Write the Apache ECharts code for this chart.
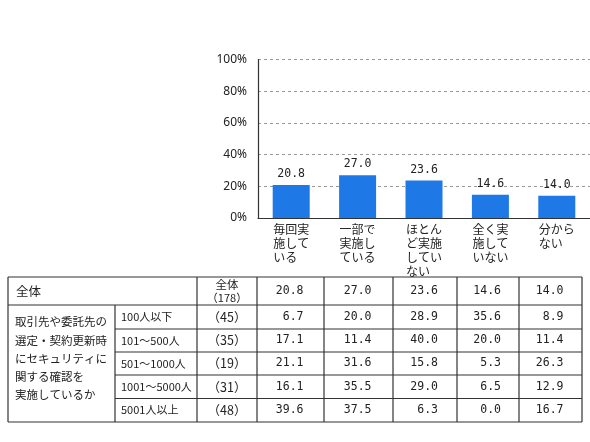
<!DOCTYPE html>
<html>
<head>
<meta charset="utf-8">
<script src="https://cdn.jsdelivr.net/npm/echarts@6/dist/echarts.min.js"></script>
<style>
  html, body { margin: 0; padding: 0; background: #fff; }
  #chart { width: 590px; height: 442px; }
</style>
</head>
<body>
<div id="chart"></div>
<script>
// カテゴリ（軸ラベルは3文字ごとに改行）
const categories = ['毎回実施している', '一部で実施している', 'ほとんど実施していない', '全く実施していない', '分からない']
const totalValues = [20.8, 27.0, 23.6, 14.6, 14.0]
const yTicks = [0, 20, 40, 60, 80, 100]

// 表
const totalLabel = '全体'
const totalCount = '（178）'
const questionLines = ['取引先や委託先の', '選定・契約更新時', 'にセキュリティに', '関する確認を', '実施しているか']
const rowLabels = ['100人以下', '101～500人', '501～1000人', '1001～5000人', '5001人以上']
const rowCounts = ['（45）', '（35）', '（19）', '（31）', '（48）']
const rowValues = [
  [6.7, 20.0, 28.9, 35.6, 8.9],
  [17.1, 11.4, 40.0, 20.0, 11.4],
  [21.1, 31.6, 15.8, 5.3, 26.3],
  [16.1, 35.5, 29.0, 6.5, 12.9],
  [39.6, 37.5, 6.3, 0.0, 16.7]
]

const JP = '"Noto Sans CJK JP", sans-serif'
const MONO = '"DejaVu Sans Mono", monospace'
const LINE = '#333'
const TEXT = '#222'

// 3文字ずつ改行し、短い行は全角スペースで埋めて左揃えに見せる
const wrap3 = s => s.match(/.{1,3}/g).map(l => l.padEnd(3, '\u3000')).join('\n')

// 表のレイアウト
const colX = [8, 115, 197, 257, 324, 393, 457, 519, 582]
const rowY = [277, 305, 329, 352, 375, 398.5, 422]

const els = []
// 白背景（はみ出した軸ラベルを隠す）
els.push({ type: 'rect', z: 10, shape: { x: 0, y: rowY[0], width: 590, height: 442 - rowY[0] }, style: { fill: '#fff' } })
const line = (x1, y1, x2, y2) => els.push({ type: 'line', z: 12, shape: { x1, y1, x2, y2 }, style: { stroke: LINE, lineWidth: 1.2 } })
const text = (t, x, y, align, font) => els.push({
  type: 'text', z: 12, style: { text: t, x, y, align, verticalAlign: 'middle', font, fill: TEXT }
})

// 横線
line(colX[0], rowY[0], colX[8], rowY[0])
line(colX[0], rowY[1], colX[8], rowY[1])
for (let i = 2; i < rowY.length - 1; i++) line(colX[1], rowY[i], colX[8], rowY[i])
line(colX[0], rowY[6], colX[8], rowY[6])
// 縦線
line(colX[0], rowY[0], colX[0], rowY[6])
line(colX[1], rowY[1], colX[1], rowY[6])
for (let j = 2; j < colX.length; j++) line(colX[j], rowY[0], colX[j], rowY[6])

const cntX = (colX[2] + colX[3]) / 2
const valX = j => (colX[3 + j] + colX[4 + j]) / 2 + 13
const midY = i => (rowY[i] + rowY[i + 1]) / 2

// 全体行
text(totalLabel, 16, midY(0), 'left', '12.5px ' + JP)
text(totalLabel, cntX, midY(0) - 6.5, 'center', '11.5px ' + JP)
text(totalCount, cntX, midY(0) + 6.5, 'center', '11px ' + JP)
totalValues.forEach((v, j) => text(v.toFixed(1), valX(j), midY(0), 'right', '11.5px ' + MONO))

// 設問
questionLines.forEach((t, k) => text(t, 15, 322 + k * 18.2, 'left', '11.5px ' + JP))

// 規模別
rowLabels.forEach((lab, i) => {
  const y = midY(i + 1)
  text(lab, 121, y, 'left', '11px ' + JP)
  text(rowCounts[i], cntX, y, 'center', '12.5px ' + JP)
  rowValues[i].forEach((v, j) => text(v.toFixed(1), valX(j), y, 'right', '11.5px ' + MONO))
})

const myChart = echarts.init(document.getElementById('chart'))
const option = {
  backgroundColor: '#fff',
  animation: false,
  grid: { left: 258, right: 0, top: 59.5, bottom: 224 },
  xAxis: {
    type: 'category',
    data: categories,
    axisLine: { lineStyle: { color: '#333', width: 1.2 } },
    axisTick: { show: false },
    axisLabel: {
      interval: 0,
      formatter: v => wrap3(v),
      fontFamily: JP,
      fontSize: 12,
      lineHeight: 14,
      color: TEXT,
      margin: 4,
      verticalAlign: 'top'
    }
  },
  yAxis: {
    type: 'value',
    min: yTicks[0],
    max: yTicks[yTicks.length - 1],
    interval: 20,
    axisLine: { show: true, lineStyle: { color: '#333', width: 1.2 } },
    axisTick: { show: false },
    axisLabel: { formatter: '{value}%', fontFamily: '"Noto Sans", sans-serif', fontSize: 12, color: TEXT, margin: 11 },
    splitLine: { lineStyle: { color: '#999', type: [3, 3], width: 1 } }
  },
  series: [{
    type: 'bar',
    data: totalValues,
    barWidth: 37,
    itemStyle: { color: '#1E78E6' },
    label: {
      show: true,
      position: 'top',
      distance: 5,
      formatter: p => p.value.toFixed(1),
      fontFamily: MONO,
      fontSize: 11.5,
      color: TEXT
    }
  }],
  graphic: { elements: els }
}
myChart.setOption(option)
</script>
</body>
</html>
